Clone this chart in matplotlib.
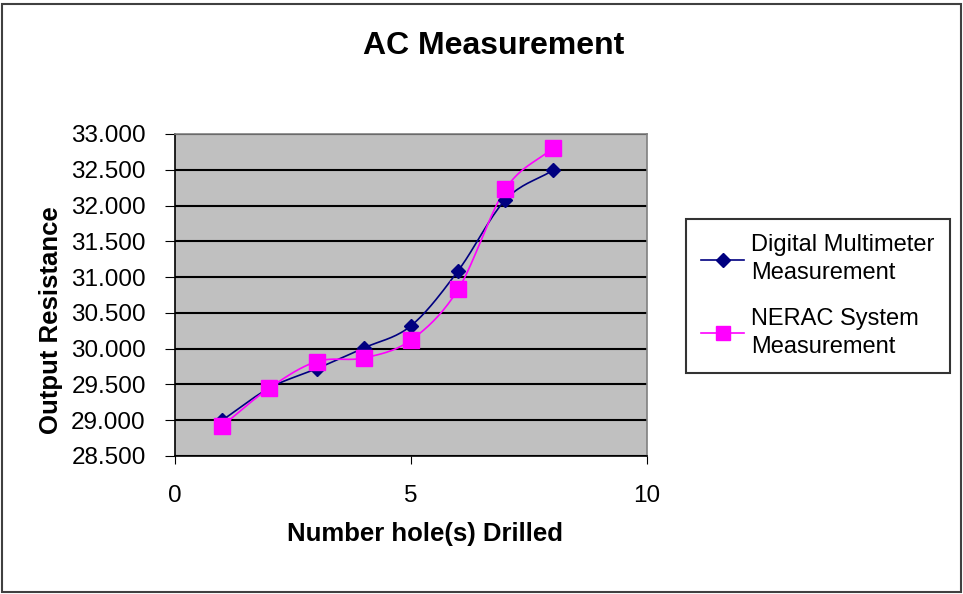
import numpy as np
import matplotlib
matplotlib.use('Agg')
import matplotlib.pyplot as plt
from matplotlib.patches import Rectangle

plt.rcParams['font.family'] = ['Liberation Sans', 'DejaVu Sans']

# data
holes = [1, 2, 3, 4, 5, 6, 7, 8]
multimeter = [29.00, 29.45, 29.72, 30.01, 30.32, 31.09, 32.08, 32.49]
nerac = [28.92, 29.45, 29.82, 29.87, 30.12, 30.83, 32.23, 32.80]
yticks = np.arange(28.5, 33.01, 0.5)
xticks = [0, 5, 10]


def smooth(x, y, n=20):
    'Catmull-Rom curve through the points, like a smoothed line'
    x = np.asarray(x, float)
    y = np.asarray(y, float)
    px = np.concatenate([[2*x[0]-x[1]], x, [2*x[-1]-x[-2]]])
    py = np.concatenate([[2*y[0]-y[1]], y, [2*y[-1]-y[-2]]])
    xs, ys = [], []
    t = np.linspace(0, 1, n)
    for i in range(1, len(px)-2):
        for p, out in ((px, xs), (py, ys)):
            p0, p1, p2, p3 = p[i-1], p[i], p[i+1], p[i+2]
            c = 0.5*((2*p1) + (-p0+p2)*t + (2*p0-5*p1+4*p2-p3)*t**2
                     + (-p0+3*p1-3*p2+p3)*t**3)
            out.extend(c)
    return np.array(xs), np.array(ys)


fig = plt.figure(figsize=(9.63, 5.94), dpi=100)
ax = fig.add_axes([175/963, 1-456/594, 472/963, 322/594])
ax.set_facecolor('#C0C0C0')

navy = '#000080'
pink = '#FF00FF'

sx, sy = smooth(holes, multimeter)
ax.plot(sx, sy, color=navy, lw=1.2, zorder=3)
ax.plot(holes, multimeter, ls='none', marker='D', ms=7, color=navy, zorder=4)
sx, sy = smooth(holes, nerac)
ax.plot(sx, sy, color=pink, lw=1.2, zorder=3)
ax.plot(holes, nerac, ls='none', marker='s', ms=11, color=pink, zorder=5)

ax.set_xlim(0, 10)
ax.set_ylim(28.5, 33.0)
ax.set_xticks(xticks)
ax.set_yticks(yticks)
ax.set_yticklabels(['%.3f' % v for v in yticks], fontsize=17.5)
ax.set_xticklabels([str(v) for v in xticks], fontsize=17.5)
ax.tick_params(axis='x', direction='out', length=6, pad=15, color='black')
ax.tick_params(axis='y', direction='out', length=7, pad=14, color='black')
ax.yaxis.grid(True, color='black', lw=1.5)
ax.set_axisbelow(True)
for s in ax.spines.values():
    s.set_color('#808080')
    s.set_linewidth(1.2)
ax.spines['left'].set_color('black')
ax.spines['bottom'].set_color('black')

ax.set_xlabel('Number hole(s) Drilled', fontsize=18.5, fontweight='bold')
ax.set_ylabel('Output Resistance', fontsize=18.5, fontweight='bold')
ax.xaxis.set_label_coords(0.53, -0.205)
ax.yaxis.set_label_coords(-0.238, 0.422)
fig.text(494/963, 1-46/594, 'AC Measurement', fontsize=23, fontweight='bold',
         ha='center', va='center')

# legend
h1, = ax.plot([], [], color=navy, marker='D', ms=7, lw=1.2)
h2, = ax.plot([], [], color=pink, marker='s', ms=10, lw=1.2)
leg = fig.legend([h1, h2], ['Digital Multimeter\nMeasurement', 'NERAC System\nMeasurement'],
                 loc='upper left', bbox_to_anchor=(686/963, 1-219/594),
                 fontsize=17, frameon=True, fancybox=False, handlelength=1.8,
                 handletextpad=0.3, labelspacing=1.0, borderpad=0.65,
                 borderaxespad=0)
for txt in leg.get_texts():
    txt.set_linespacing(1.35)
leg.get_frame().set_edgecolor('black')
leg.get_frame().set_linewidth(1.5)

# outer chart border
fig.patches.append(Rectangle((0.002, 0.003), 0.996, 0.99, transform=fig.transFigure,
                             fill=False, edgecolor='#404040', lw=1.5))

fig.savefig('out.png', dpi=100)
